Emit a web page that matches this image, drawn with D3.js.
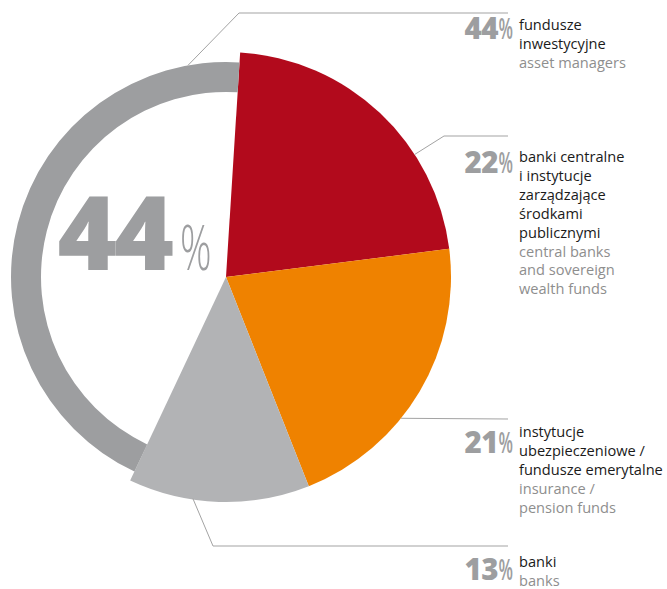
<!DOCTYPE html>
<html>
<head>
<meta charset="utf-8">
<script src="https://cdn.jsdelivr.net/npm/d3@7"></script>
<style>
  html, body { margin: 0; padding: 0; background: #fff; }
  svg { display: block; }
  text { font-family: "Open Sans", "Noto Sans", sans-serif; }
</style>
</head>
<body>
<svg id="chart" width="667" height="589"></svg>
<script>
// Investor structure: shares by investor type
const shares = [44, 22, 21, 13];
const labelsPL = [
  ["fundusze", "inwestycyjne"],
  ["banki centralne", "i instytucje", "zarządzające", "środkami", "publicznymi"],
  ["instytucje", "ubezpieczeniowe /", "fundusze emerytalne"],
  ["banki"]
];
const labelsEN = [
  ["asset managers"],
  ["central banks", "and sovereign", "wealth funds"],
  ["insurance /", "pension funds"],
  ["banks"]
];
const colors = ["#9d9ea0", "#b20a1c", "#ef8200", "#b2b3b5"];

// Layout
const cx = 226, cy = 277;
const R = 225, ringOuter = 215, ringInner = 185;
const startAngle = 0.063;
const numX = 513, textX = 519, lineX = 508, lh = 18.9;
const blocks = [
  { numY: 39,  textY: 30,  leaderAngle: -10.2, leaderR: 215, elbow: [239, 13] },
  { numY: 173, textY: 162, leaderAngle: 57,    leaderR: 225, elbow: [444, 136] },
  { numY: 453, textY: 437, leaderAngle: 128.9, leaderR: 225, elbow: null, lineY: 419 },
  { numY: 580, textY: 567, leaderAngle: 188.5, leaderR: 224, elbow: [213, 546] }
];

const svg = d3.select("#chart");
const g = svg.append("g").attr("transform", `translate(${cx},${cy})`);

// Pie order clockwise: the filled slices first, then the 44% ring
const order = [1, 2, 3, 0];
const pie = d3.pie().sort(null).value(i => shares[i])
  .startAngle(startAngle).endAngle(startAngle + 2 * Math.PI);
const arcs = pie(order);

const solidArc = d3.arc().innerRadius(0).outerRadius(R);
const ringArc = d3.arc().innerRadius(ringInner).outerRadius(ringOuter);

g.selectAll("path.slice")
  .data(arcs)
  .join("path")
  .attr("class", "slice")
  .attr("d", d => d.data === 0 ? ringArc(d) : solidArc(d))
  .attr("fill", d => colors[d.data]);

// Centre figure for the largest share
const big = svg.append("g").attr("fill", "#9d9ea0");
big.append("text")
  .attr("x", 171).attr("y", 270)
  .attr("text-anchor", "end")
  .attr("font-size", 102).attr("font-weight", 800)
  .attr("letter-spacing", -3)
  .text(shares[0]);
big.append("text")
  .attr("transform", "translate(180,270) scale(0.62,1)")
  .attr("font-size", 63).attr("font-weight", 300)
  .text("%");

// Leader lines
blocks.forEach((b, i) => {
  const a = b.leaderAngle * Math.PI / 180;
  const p0 = [cx + b.leaderR * Math.sin(a), cy - b.leaderR * Math.cos(a)];
  const pts = [p0];
  if (b.elbow) { pts.push(b.elbow); pts.push([lineX, b.elbow[1]]); }
  else { pts.push([lineX, b.lineY]); }
  svg.append("path")
    .attr("d", d3.line()(pts))
    .attr("fill", "none")
    .attr("stroke", "#a3a3a3")
    .attr("stroke-width", 1);
});

// Percent figures and descriptions
blocks.forEach((b, i) => {
  const pg = svg.append("g").attr("fill", "#9d9ea0");
  pg.append("text")
    .attr("transform", `translate(${numX},${b.numY}) scale(0.6,1)`)
    .attr("text-anchor", "end")
    .attr("font-size", 28).attr("font-weight", 600)
    .text("%");
  pg.append("text")
    .attr("x", numX - 15).attr("y", b.numY)
    .attr("text-anchor", "end")
    .attr("font-size", 29.5).attr("font-weight", 800)
    .attr("letter-spacing", -0.5)
    .text(shares[i]);

  const lines = labelsPL[i].map(t => ({ t, c: "#1a1a1a" }))
    .concat(labelsEN[i].map(t => ({ t, c: "#8e8e8e" })));
  svg.append("g").selectAll("text")
    .data(lines)
    .join("text")
    .attr("x", textX)
    .attr("y", (d, j) => b.textY + j * lh)
    .attr("font-size", 14.6)
    .attr("fill", d => d.c)
    .text(d => d.t);
});
</script>
</body>
</html>
